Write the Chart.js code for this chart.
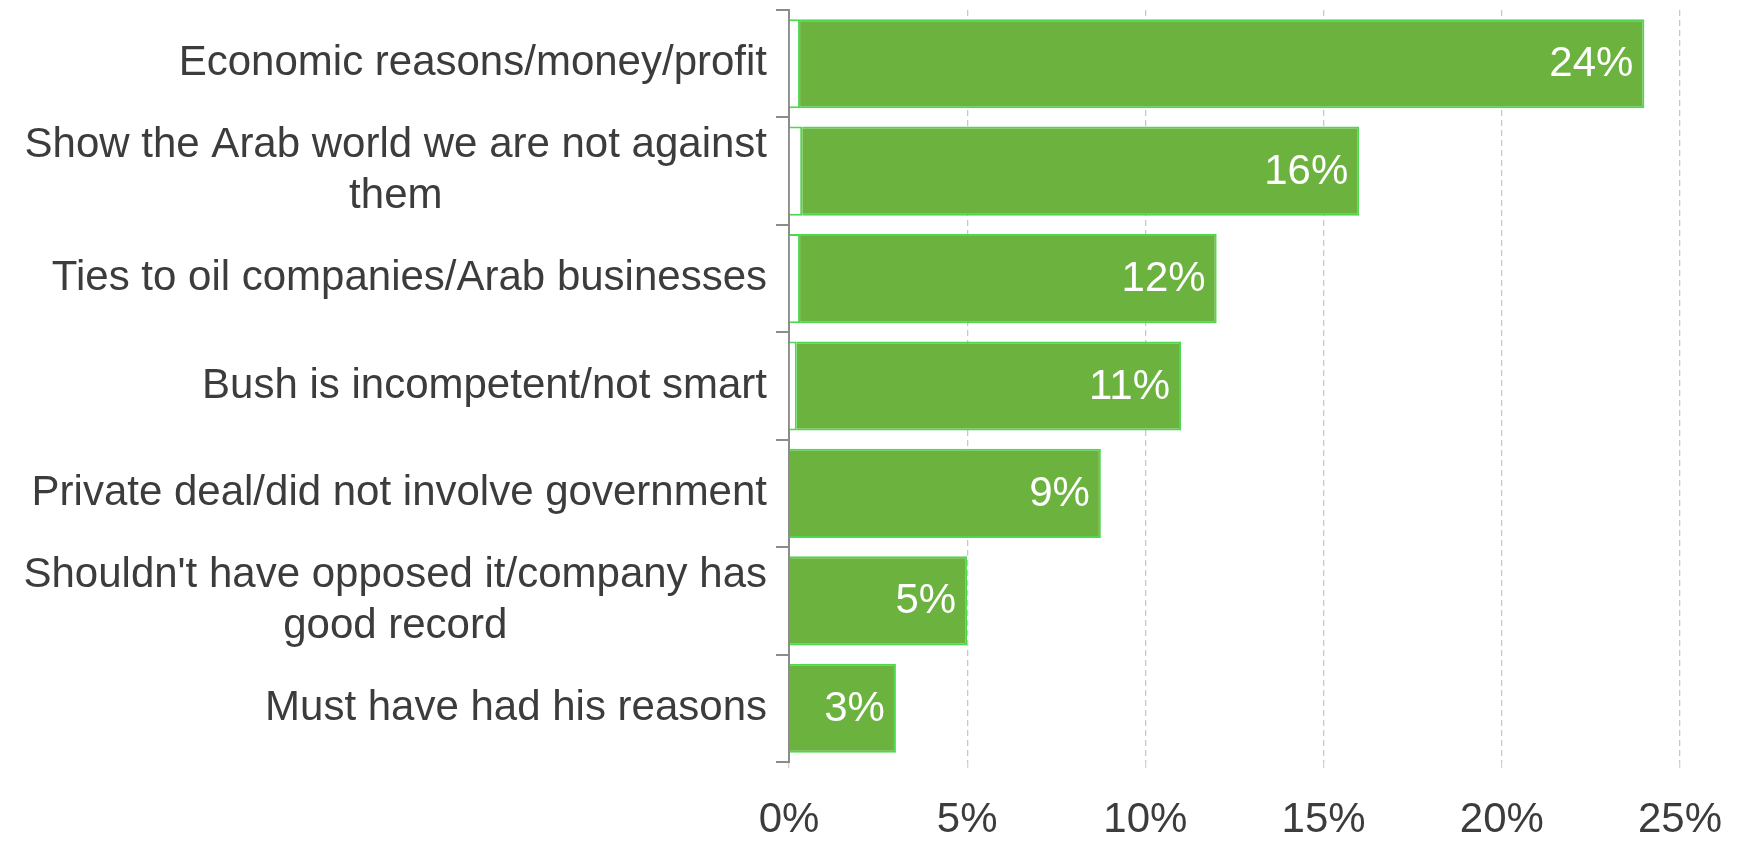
<!DOCTYPE html>
<html>
<head>
<meta charset="utf-8">
<script src="https://cdn.jsdelivr.net/npm/chart.js@4.4.1/dist/chart.umd.min.js"></script>
<style>
  html, body { margin: 0; padding: 0; background: #ffffff; }
  #wrap { width: 1738px; height: 841px; position: relative; }
</style>
</head>
<body>
<div id="wrap"><canvas id="c" width="1738" height="841"></canvas></div>
<script>
// ---- data ----
const categories = [
  'Economic reasons/money/profit',
  ['Show the Arab world we are not against', 'them'],
  'Ties to oil companies/Arab businesses',
  'Bush is incompetent/not smart',
  'Private deal/did not involve government',
  ["Shouldn't have opposed it/company has", 'good record'],
  'Must have had his reasons'
];
// small white lead-in segment visible at the start of some bars (percent)
const leadSegment = [0.31, 0.37, 0.31, 0.22, null, null, null];
// main green segment (percent)
const mainSegment = [23.69, 15.63, 11.69, 10.78, 8.75, 5, 3];
// value labels shown inside the bars
const valueLabels = ['24%', '16%', '12%', '11%', '9%', '5%', '3%'];
// x axis ticks
const xTicks = [0, 5, 10, 15, 20, 25];

const FONT = '"Liberation Sans", Arial, sans-serif';
const TEXT = '#3c3c3c';
const GREEN = '#6bb23f';
const GREEN_EDGE = '#4fd84f';

const catLabelPlugin = {
  id: 'catLabels',
  afterDraw(chart) {
    const ys = chart.scales.y;
    const ctx = chart.ctx;
    const right = chart.chartArea.left - 22;
    ctx.save();
    ctx.font = '42px ' + FONT;
    ctx.fillStyle = TEXT;
    ctx.textBaseline = 'middle';
    categories.forEach((lab, i) => {
      const y = ys.getPixelForValue(i);
      const lines = Array.isArray(lab) ? lab : [lab];
      if (lines.length === 1) {
        ctx.textAlign = 'right';
        ctx.fillText(lines[0], right, y);
      } else {
        const w = Math.max(...lines.map(l => ctx.measureText(l).width));
        const cx = right - w / 2;
        const lh = 51;
        ctx.textAlign = 'center';
        lines.forEach((l, k) => {
          ctx.fillText(l, cx, y + (k - (lines.length - 1) / 2) * lh);
        });
      }
    });
    ctx.restore();
  }
};

const valueLabelPlugin = {
  id: 'valueLabels',
  afterDatasetsDraw(chart) {
    const meta = chart.getDatasetMeta(1);
    const ctx = chart.ctx;
    ctx.save();
    ctx.font = '42px ' + FONT;
    ctx.fillStyle = '#ffffff';
    ctx.textAlign = 'right';
    ctx.textBaseline = 'middle';
    meta.data.forEach((bar, i) => {
      ctx.fillText(valueLabels[i], bar.x - 11, bar.y + 1);
    });
    ctx.restore();
  }
};

new Chart(document.getElementById('c'), {
  type: 'bar',
  data: {
    labels: categories,
    datasets: [
      {
        data: leadSegment,
        backgroundColor: '#ffffff',
        borderColor: GREEN_EDGE,
        borderWidth: 2,
        borderSkipped: 'start',
        categoryPercentage: 1,
        barPercentage: 0.83
      },
      {
        data: mainSegment,
        backgroundColor: GREEN,
        borderColor: GREEN_EDGE,
        borderWidth: 2,
        borderSkipped: 'start',
        categoryPercentage: 1,
        barPercentage: 0.83
      }
    ]
  },
  options: {
    indexAxis: 'y',
    responsive: false,
    animation: false,
    layout: { padding: { top: 10, right: 58, left: 0, bottom: 0 } },
    plugins: { legend: { display: false }, tooltip: { enabled: false } },
    scales: {
      x: {
        stacked: true,
        min: 0,
        max: 25,
        afterBuildTicks(scale) { scale.ticks = xTicks.map(v => ({ value: v })); },
        afterFit(scale) {
          scale.height = 79;
          scale.paddingLeft = 0;
          scale.paddingRight = 0;
        },
        border: { display: false, dash: [6, 4] },
        grid: {
          color: '#c8c8c8',
          lineWidth: 1.3,
          tickLength: 6,
          tickColor: '#d4d4d4',
          borderDash: [6, 4]
        },
        ticks: {
          callback: v => v + '%',
          font: { family: FONT, size: 42 },
          color: TEXT,
          padding: 27,
          maxRotation: 0
        }
      },
      y: {
        stacked: true,
        afterFit(scale) {
          scale.width = 789;
          scale.paddingTop = 0;
          scale.paddingBottom = 0;
        },
        border: { display: true, color: '#8c8c8c', width: 2 },
        grid: {
          offset: true,
          drawOnChartArea: false,
          drawTicks: true,
          tickLength: 13,
          color: '#8c8c8c',
          lineWidth: 2
        },
        ticks: { display: false }
      }
    }
  },
  plugins: [catLabelPlugin, valueLabelPlugin]
});
</script>
<script>
const ch = Chart.getChart('c');
ch.options.scales.x.grid.borderDash = [6, 4];
ch.options.scales.x.border.dash = [6, 4];
ch.update('none');
</script>
</body>
</html>
